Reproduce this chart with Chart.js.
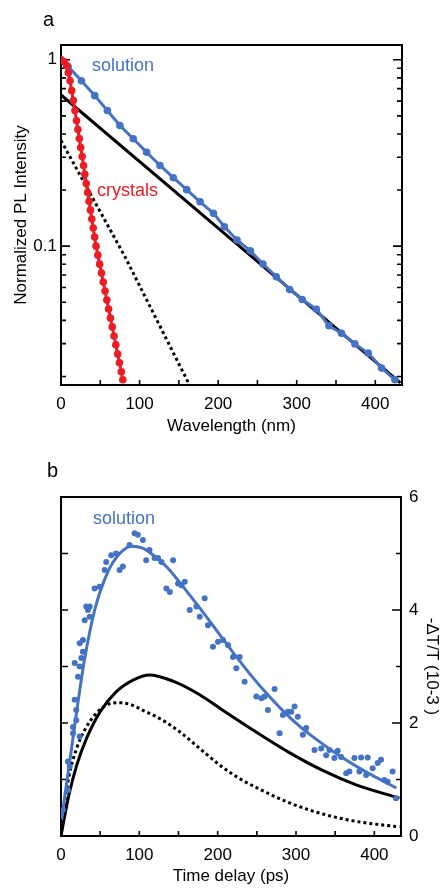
<!DOCTYPE html>
<html>
<head>
<meta charset="utf-8">
<script src="https://cdn.jsdelivr.net/npm/chart.js@4.4.1/dist/chart.umd.min.js"></script>
<style>
  html, body { margin: 0; padding: 0; background: #fff; }
  body { width: 446px; height: 888px; position: relative; overflow: hidden; font-family: "Liberation Sans", Arial, sans-serif; }
  canvas { position: absolute; left: 0; }
  #chartA { top: 0; }
  #chartB { top: 440px; }
  .note { position: absolute; font-size: 18px; line-height: 18px; white-space: nowrap; }
  .panel { position: absolute; font-size: 20px; line-height: 20px; color: #000; }
</style>
</head>
<body>
<canvas id="chartA" width="446" height="440"></canvas>
<canvas id="chartB" width="446" height="448"></canvas>
<div class="panel" style="left:43px;top:9px">a</div>
<div class="panel" style="left:47px;top:460px">b</div>
<div class="note" style="left:92px;top:56px;color:#4472c4">solution</div>
<div class="note" style="left:97px;top:181px;color:#ec1c24">crystals</div>
<div class="note" style="left:93px;top:509px;color:#4472c4">solution</div>
<script>
// panel a : PL decay (log scale)
const solX = [0, 9, 26, 43, 59, 75, 92, 109, 126, 143, 160, 177, 194, 208, 224, 241, 257, 274, 291, 307, 325, 341, 357, 374, 391, 408, 425];
const solY = [1.0, 0.92, 0.772, 0.642, 0.534, 0.444, 0.377, 0.319, 0.271, 0.233, 0.201, 0.173, 0.150, 0.127, 0.108, 0.0944, 0.0802, 0.0686, 0.0586, 0.0518, 0.0459, 0.0374, 0.0341, 0.0299, 0.0267, 0.0222, 0.0192];
const cryX = [0, 4.5, 7.3, 9.3, 11.5, 13.6, 15.7, 17.8, 19.7, 21.5, 23.3, 25.1, 26.9, 28.7, 30.3, 32.1, 33.9, 35.7, 37.5, 39.2, 41.0, 42.8, 44.6, 46.9, 49.2, 51.5, 53.8, 56.1, 58.3, 60.6, 62.9, 65.2, 67.5, 69.8, 72.1, 74.4, 76.7, 78.7];
const cryY = [1.0, 0.976, 0.929, 0.852, 0.772, 0.683, 0.604, 0.534, 0.472, 0.422, 0.378, 0.338, 0.303, 0.271, 0.243, 0.217, 0.194, 0.174, 0.156, 0.140, 0.125, 0.112, 0.100, 0.0895, 0.0801, 0.0717, 0.0642, 0.0574, 0.0514, 0.0460, 0.0412, 0.0369, 0.0330, 0.0296, 0.0264, 0.0237, 0.0212, 0.0192];
const slowAX = [0, 206, 432];
const slowAY = [0.647, 0.119, 0.0185];
const fastAX = [0, 81.5, 163];
const fastAY = [0.369, 0.0877, 0.0182];

// panel b : transient absorption
const dotX = [2.5, 8.9, 11.1, 8.9, 15.3, 15.3, 19.5, 19.5, 17.5, 23.8, 17.5, 21.7, 23.8, 25.9, 28.0, 23.8, 28.0, 30.2, 34.4, 32.2, 36.6, 36.6, 42.9, 49.3, 55.7, 57.7, 64.1, 70.4, 74.8, 79.0, 87.5, 93.9, 98.1, 104.5, 108.7, 113, 119.4, 123.9, 128.3, 143.1, 134.6, 138.9, 149.4, 158, 153.8, 183.4, 164.3, 172.9, 177.1, 187.6, 194, 200.4, 206.8, 213.1, 219.5, 228, 223.8, 234.4, 249.3, 255.7, 259.9, 272.6, 264.1, 283.2, 289.6, 293.9, 298.1, 302.3, 279, 308.7, 313, 323.6, 332.1, 338.5, 342.7, 349, 353.2, 357.6, 364, 368.2, 374.5, 383.1, 391.5, 380.9, 389.4, 397.8, 404.2, 408.5, 412.7, 416.9, 423.3, 427.6];
const dotY = [0.46, 0.81, 1.23, 1.32, 1.82, 1.93, 2.05, 2.23, 2.41, 1.76, 3.06, 2.82, 3.0, 3.15, 3.26, 3.41, 3.47, 3.82, 4.0, 4.06, 4.06, 3.88, 4.38, 4.41, 4.71, 4.85, 4.97, 5.0, 4.71, 4.77, 5.15, 5.36, 5.33, 5.24, 4.88, 5.06, 4.92, 4.92, 4.85, 4.88, 4.38, 4.32, 4.47, 4.50, 4.44, 4.21, 4.0, 4.06, 3.88, 3.73, 3.35, 3.44, 3.47, 3.38, 3.17, 3.17, 2.97, 2.73, 2.47, 2.44, 2.47, 2.60, 2.23, 2.14, 2.20, 2.20, 2.29, 2.11, 1.82, 1.79, 1.91, 1.52, 1.55, 1.43, 1.52, 1.38, 1.51, 1.40, 1.11, 1.14, 1.38, 1.39, 1.39, 1.14, 1.08, 1.20, 1.29, 1.35, 0.99, 0.96, 1.14, 0.67];
const fitBX = [1, 5, 13, 22, 30, 43, 60, 75, 90, 105, 115, 135, 156, 178, 198, 220, 241, 262, 283, 304, 326, 347, 368, 390, 410, 428];
const fitBY = [0.3, 0.72, 1.5, 2.4, 3.12, 4.0, 4.68, 5.0, 5.13, 5.09, 5.0, 4.76, 4.41, 4.02, 3.65, 3.24, 2.87, 2.53, 2.22, 1.95, 1.71, 1.5, 1.31, 1.13, 0.98, 0.85];
const slowBX = [0, 4, 10, 20, 33, 50, 71, 92, 113, 143, 177, 206, 249, 291, 334, 376, 432];
const slowBY = [0, 0.3, 0.72, 1.25, 1.74, 2.2, 2.56, 2.76, 2.85, 2.74, 2.5, 2.23, 1.84, 1.48, 1.16, 0.91, 0.67];
const fastBX = [0, 4, 10, 20, 30, 45, 60, 75, 90, 105, 126, 152, 177, 206, 230, 249, 291, 334, 376, 432];
const fastBY = [0, 0.5, 1.05, 1.55, 1.87, 2.17, 2.33, 2.36, 2.32, 2.22, 2.08, 1.84, 1.55, 1.22, 1.0, 0.86, 0.59, 0.39, 0.26, 0.16];

// ticks
const xLabelTicks = [0, 100, 200, 300, 400];
const xMinorTicks = [50, 150, 250, 350];
const yLabelTicksA = [0.1, 1];
const yMinorTicksA = [0.02, 0.03, 0.04, 0.05, 0.06, 0.07, 0.08, 0.09, 0.2, 0.3, 0.4, 0.5, 0.6, 0.7, 0.8, 0.9];
const yLabelTicksB = [0, 2, 4, 6];
const yMinorTicksB = [1, 3, 5];
const yLeftTicksB = [1, 2, 3, 4, 5];

const BLUE = '#4472c4';
const RED = '#ec1c24';
const FONT = { family: '"Liberation Sans", Arial, sans-serif', size: 17 };

function pairs(xs, ys) {
    return xs.map((x, i) => ({ x: x, y: ys[i] }));
}

// frame box and inward tick marks
const frameTicks = {
    id: 'frameTicks',
    beforeDatasetsDraw(chart, args, opts) {
        const ctx = chart.ctx;
        const a = chart.chartArea;
        const sx = chart.scales.x;
        const sy = chart.scales.y;
        ctx.save();
        ctx.strokeStyle = '#000';
        ctx.lineWidth = 1.6;
        ctx.beginPath();
        opts.bottom.forEach(g => g.values.forEach(v => {
            const p = sx.getPixelForValue(v);
            ctx.moveTo(p, a.bottom);
            ctx.lineTo(p, a.bottom - g.len);
        }));
        opts.left.forEach(g => g.values.forEach(v => {
            const p = sy.getPixelForValue(v);
            ctx.moveTo(a.left, p);
            ctx.lineTo(a.left + g.len, p);
        }));
        opts.right.forEach(g => g.values.forEach(v => {
            const p = sy.getPixelForValue(v);
            ctx.moveTo(a.right, p);
            ctx.lineTo(a.right - g.len, p);
        }));
        ctx.stroke();
        ctx.lineWidth = 2;
        ctx.strokeRect(a.left, a.top, a.right - a.left, a.bottom - a.top);
        ctx.restore();
    }
};

new Chart(document.getElementById('chartA'), {
    type: 'line',
    data: {
        datasets: [
            { data: pairs(cryX, cryY), borderColor: RED, backgroundColor: RED, borderWidth: 3, pointRadius: 3.8, pointBorderWidth: 0, tension: 0 },
            { data: pairs(solX, solY), borderColor: BLUE, backgroundColor: BLUE, borderWidth: 3, pointRadius: 3.8, pointBorderWidth: 0, tension: 0 },
            { data: pairs(slowAX, slowAY), borderColor: '#000', borderWidth: 3, pointRadius: 0, tension: 0 },
            { data: pairs(fastAX, fastAY), borderColor: '#000', borderWidth: 3, borderDash: [3, 3], pointRadius: 0, tension: 0 }
        ]
    },
    options: {
        responsive: false,
        animation: false,
        events: [],
        layout: { padding: { top: 45, right: 44, left: 0, bottom: 0 } },
        plugins: {
            legend: { display: false },
            tooltip: { enabled: false },
            frameTicks: {
                bottom: [{ values: xLabelTicks, len: 5 }, { values: xMinorTicks, len: 5 }],
                left: [{ values: yLabelTicksA, len: 9 }, { values: yMinorTicksA, len: 5 }],
                right: [{ values: yLabelTicksA, len: 9 }, { values: yMinorTicksA, len: 5 }]
            }
        },
        scales: {
            x: {
                type: 'linear', min: 0, max: 434,
                afterFit(s) { s.height = 55; },
                afterBuildTicks(s) { s.ticks = xLabelTicks.map(v => ({ value: v })); },
                grid: { display: false, drawTicks: false },
                border: { display: false },
                ticks: { font: FONT, color: '#000', padding: 9, maxRotation: 0 },
                title: { display: true, text: 'Wavelength (nm)', font: FONT, color: '#000', padding: { top: 0, bottom: 3 } }
            },
            y: {
                type: 'logarithmic', min: 0.018, max: 1.2,
                afterFit(s) { s.width = 61; },
                afterBuildTicks(s) { s.ticks = yLabelTicksA.map(v => ({ value: v })); },
                grid: { display: false, drawTicks: false },
                border: { display: false },
                ticks: { font: FONT, color: '#000', padding: 4, callback: v => String(v) },
                title: { display: true, text: 'Normalized PL Intensity', font: FONT, color: '#000', padding: { top: 11, bottom: 0 } }
            }
        }
    },
    plugins: [frameTicks]
});

new Chart(document.getElementById('chartB'), {
    type: 'line',
    data: {
        datasets: [
            { data: pairs(dotX, dotY), showLine: false, backgroundColor: BLUE, borderColor: BLUE, pointRadius: 3, pointBorderWidth: 0 },
            { data: pairs(fitBX, fitBY), borderColor: BLUE, borderWidth: 3, pointRadius: 0, cubicInterpolationMode: 'monotone' },
            { data: pairs(slowBX, slowBY), borderColor: '#000', borderWidth: 3, pointRadius: 0, cubicInterpolationMode: 'monotone' },
            { data: pairs(fastBX, fastBY), borderColor: '#000', borderWidth: 3, borderDash: [3, 3], pointRadius: 0, cubicInterpolationMode: 'monotone' }
        ]
    },
    options: {
        responsive: false,
        animation: false,
        events: [],
        layout: { padding: { top: 57, right: 0, left: 61, bottom: 0 } },
        plugins: {
            legend: { display: false },
            tooltip: { enabled: false },
            frameTicks: {
                bottom: [{ values: xLabelTicks, len: 5 }, { values: xMinorTicks, len: 5 }],
                left: [{ values: yLeftTicksB, len: 7 }],
                right: [{ values: yLabelTicksB, len: 9 }, { values: yMinorTicksB, len: 5 }]
            }
        },
        scales: {
            x: {
                type: 'linear', min: 0, max: 434,
                afterFit(s) { s.height = 52; },
                afterBuildTicks(s) { s.ticks = xLabelTicks.map(v => ({ value: v })); },
                grid: { display: false, drawTicks: false },
                border: { display: false },
                ticks: { font: FONT, color: '#000', padding: 9, maxRotation: 0 },
                title: { display: true, text: 'Time delay (ps)', font: FONT, color: '#000', padding: { top: 0, bottom: 1 } }
            },
            y: {
                type: 'linear', position: 'right', min: 0, max: 6,
                afterFit(s) { s.width = 45; },
                afterBuildTicks(s) { s.ticks = yLabelTicksB.map(v => ({ value: v })); },
                grid: { display: false, drawTicks: false },
                border: { display: false },
                ticks: { font: FONT, color: '#000', padding: 8 },
                title: { display: true, text: '-ΔT/T (10-3 )', font: FONT, color: '#000', padding: { top: 4, bottom: 0 } }
            }
        }
    },
    plugins: [frameTicks]
});
</script>
</body>
</html>
